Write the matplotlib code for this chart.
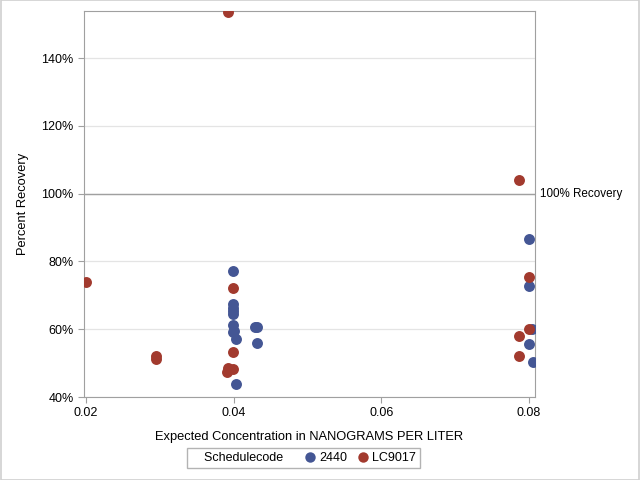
import matplotlib
matplotlib.use("Agg")
import matplotlib.pyplot as plt
from matplotlib.lines import Line2D
from matplotlib.patches import Rectangle
from matplotlib.ticker import FuncFormatter

plt.rcParams["font.family"] = ["Liberation Sans", "DejaVu Sans"]
plt.rcParams["font.size"] = 9

# expected concentration (ng/L) and percent recovery, by schedule code
conc_2440 = [0.0399, 0.0399, 0.0399, 0.0399, 0.0399, 0.0399, 0.0399, 0.0401,
             0.0403, 0.0429, 0.0432, 0.0432, 0.0403,
             0.0800, 0.0800, 0.0800, 0.0805, 0.0804]
rec_2440 = [77.1, 67.4, 66.4, 65.5, 64.6, 61.1, 59.2, 59.4,
            57.1, 60.7, 60.7, 55.9, 43.8,
            86.6, 72.7, 55.6, 50.3, 60.0]

conc_lc9017 = [0.0392, 0.0200, 0.0295, 0.0295, 0.0399, 0.0399, 0.0392, 0.0399,
               0.0391, 0.0787, 0.0800, 0.0800, 0.0787, 0.0787]
rec_lc9017 = [153.7, 73.9, 52.0, 51.2, 72.3, 53.3, 48.6, 48.4,
              47.4, 104.0, 75.4, 60.1, 58.0, 52.1]

yticks = [40, 60, 80, 100, 120, 140]
xticks = [0.02, 0.04, 0.06, 0.08]

blue = "#445694"
red = "#A23A2E"
gray = "#a0a0a0"

fig = plt.figure(figsize=(6.4, 4.8), dpi=100)
ax = fig.add_axes([0.13125, 0.1729, 0.7047, 0.8042])

ax.axhline(100, color=gray, lw=1, zorder=1)
ax.text(1.012, 100, "100% Recovery", transform=ax.get_yaxis_transform(),
        va="center", ha="left", fontsize=8.4)

s1 = ax.scatter(conc_2440, rec_2440, s=62, color=blue, zorder=3, linewidths=0)
s2 = ax.scatter(conc_lc9017, rec_lc9017, s=62, color=red, zorder=3, linewidths=0)

ax.set_xlim(0.01973, 0.0808)
ax.set_ylim(40, 153.9)
ax.set_xticks(xticks)
ax.set_yticks(yticks)
ax.xaxis.set_major_formatter(FuncFormatter(lambda v, p: f"{v:.2f}"))
ax.yaxis.set_major_formatter(FuncFormatter(lambda v, p: f"{v:.0f}%"))
ax.grid(axis="y", color="#e4e4e4", lw=0.9, zorder=0)
ax.set_axisbelow(True)
for sp in ax.spines.values():
    sp.set_color(gray)
ax.tick_params(colors=gray, labelcolor="black", length=4)

ax.set_xlabel("Expected Concentration in NANOGRAMS PER LITER", fontsize=9.3, labelpad=8)
ax.set_ylabel("Percent Recovery", fontsize=9.3, labelpad=9)

handles = [Line2D([], [], linestyle="none"),
           Line2D([], [], linestyle="none", marker="o", markersize=7.5,
                  color=blue, markeredgewidth=0),
           Line2D([], [], linestyle="none", marker="o", markersize=7.5,
                  color=red, markeredgewidth=0)]
labels = ["Schedulecode   ", "2440", "LC9017"]
leg = fig.legend(handles, labels, loc="center", bbox_to_anchor=(0.474, 0.0455),
                 ncol=3, frameon=True, fancybox=False, fontsize=9,
                 handlelength=0.7, handletextpad=0.4, columnspacing=0.9,
                 borderpad=0.3, borderaxespad=0)
leg.get_frame().set_edgecolor(gray)
leg.get_frame().set_linewidth(1)

fig.patches.append(Rectangle((0.001, 0.001), 0.998, 0.998, transform=fig.transFigure,
                             fill=False, edgecolor="#d0d0d0", lw=1.2))

fig.savefig("out.png", dpi=100)
